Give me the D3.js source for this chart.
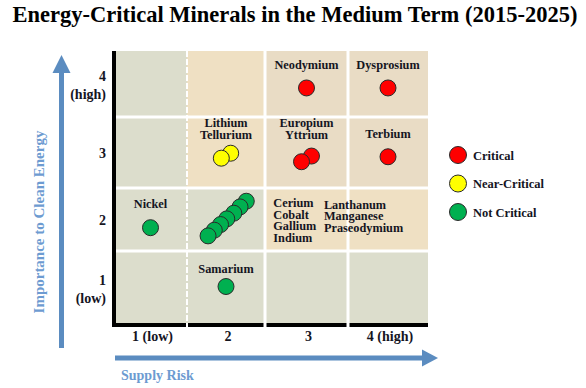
<!DOCTYPE html>
<html>
<head>
<meta charset="utf-8">
<script src="https://cdn.jsdelivr.net/npm/d3@7"></script>
<style>
  body { margin: 0; background: #fff; }
  svg text { font-family: "Liberation Serif", "Times New Roman", serif; font-weight: bold; }
</style>
</head>
<body>
<div id="chart"></div>
<script>
// chart data
var title = "Energy-Critical Minerals in the Medium Term (2015-2025)";
var xTicks = [1, 2, 3, 4];
var xTickLabels = ["1 (low)", "2", "3", "4 (high)"];
var yTicks = [1, 2, 3, 4];
var yTickLabels = [["1", "(low)"], ["2"], ["3"], ["4", "(high)"]];

// status categories
var statusNames = ["Critical", "Near-Critical", "Not Critical"];
var statusColors = ["#ff0000", "#ffff00", "#00b050"];

// minerals (drawn in this order, upper-right first)
var minerals = ["Neodymium", "Dysprosium", "Europium", "Yttrium", "Terbium",
                "Tellurium", "Lithium", "Nickel",
                "Praseodymium", "Manganese", "Lanthanum", "Indium", "Gallium", "Cobalt", "Cerium",
                "Samarium"];
var supplyRisk = [3.0, 4.0, 3.06, 2.94, 4.0,
                  2.06, 1.94, 1.0,
                  2.26, 2.18, 2.10, 2.01, 1.93, 1.85, 1.77,
                  2.0];
var importance = [3.94, 3.94, 2.95, 2.87, 2.94,
                  2.99, 2.92, 1.87,
                  2.29, 2.20, 2.10, 2.01, 1.92, 1.83, 1.74,
                  1.02];
var mineralStatus = [0, 0, 0, 0, 0,
                     1, 1, 2,
                     2, 2, 2, 2, 2, 2, 2,
                     2];

// annotation labels
var labelLines = [["Neodymium"], ["Dysprosium"], ["Europium", "Yttrium"], ["Terbium"],
                  ["Lithium", "Tellurium"], ["Nickel"], ["Samarium"],
                  ["Cerium", "Cobalt", "Gallium", "Indium"],
                  ["Lanthanum", "Manganese", "Praseodymium"]];
var labelX = [3.0, 4.0, 3.0, 4.0, 2.0, 1.0, 2.0, 2.6, 3.21];
var labelY = [4.23, 4.23, 3.36, 3.2, 3.36, 2.18, 1.2, 2.2, 2.17];
var labelAnchor = ["middle", "middle", "middle", "middle", "middle", "middle", "middle", "start", "start"];

// cell shading, row 1 (bottom) to row 4 (top)
var cellShade = [[0, 0, 0, 0],
                 [0, 0, 1, 1],
                 [0, 1, 2, 2],
                 [0, 1, 2, 2]];
var shadeColors = ["#dcddcc", "#efe0c3", "#e9dcc5"];

var width = 586, height = 388;
var arrowColor = "#5b8cc0";
var textColor = "#15151f";

var svg = d3.select("#chart").append("svg")
    .attr("width", width)
    .attr("height", height);

// piecewise scales, cells are not all equal
var x = d3.scaleLinear()
    .domain([0.5, 1.5, 2.5, 3.5, 4.5])
    .range([114, 187, 265, 348, 428]);
var y = d3.scaleLinear()
    .domain([0.5, 1.5, 2.5, 3.5, 4.5])
    .range([325, 251, 188, 117, 51]);

// title
svg.append("text")
    .attr("x", width / 2 + 2)
    .attr("y", 22)
    .attr("text-anchor", "middle")
    .attr("font-size", 22.5)
    .attr("fill", "#000")
    .text(title);

// cells
var cells = [];
cellShade.forEach(function(row, ri) {
    row.forEach(function(s, ci) {
        cells.push({ col: ci + 1, row: ri + 1, shade: s });
    });
});
svg.append("g").selectAll("rect")
    .data(cells)
    .enter().append("rect")
        .attr("x", function(d) { return x(d.col - 0.5); })
        .attr("y", function(d) { return y(d.row + 0.5); })
        .attr("width", function(d) { return x(d.col + 0.5) - x(d.col - 0.5); })
        .attr("height", function(d) { return y(d.row - 0.5) - y(d.row + 0.5); })
        .attr("fill", function(d) { return shadeColors[d.shade]; });

// black axis lines
svg.append("line")
    .attr("x1", x(0.5)).attr("x2", x(0.5))
    .attr("y1", y(4.5)).attr("y2", y(0.5) + 2)
    .attr("stroke", "#000").attr("stroke-width", 4);
svg.append("line")
    .attr("x1", x(0.5) - 2).attr("x2", x(4.5))
    .attr("y1", y(0.5)).attr("y2", y(0.5))
    .attr("stroke", "#000").attr("stroke-width", 4);

// white grid lines between cells
var bounds = [1.5, 2.5, 3.5];
svg.append("g").selectAll("line")
    .data(bounds)
    .enter().append("line")
        .attr("x1", function(d) { return x(d); })
        .attr("x2", function(d) { return x(d); })
        .attr("y1", y(4.5))
        .attr("y2", y(0.5) + 2)
        .attr("stroke", "#fff")
        .attr("stroke-width", function(d) { return d == 1.5 ? 2 : 3; })
        .attr("stroke-dasharray", function(d) { return d == 1.5 ? "6,2" : null; });
svg.append("g").selectAll("line")
    .data(bounds)
    .enter().append("line")
        .attr("x1", x(0.5) + 2)
        .attr("x2", x(4.5))
        .attr("y1", function(d) { return y(d); })
        .attr("y2", function(d) { return y(d); })
        .attr("stroke", "#fff")
        .attr("stroke-width", 3);

// x tick labels
svg.append("g").selectAll("text")
    .data(xTicks)
    .enter().append("text")
        .attr("x", function(d) { return x(d) + 2; })
        .attr("y", 341)
        .attr("text-anchor", "middle")
        .attr("font-size", 14)
        .attr("fill", textColor)
        .text(function(d, i) { return xTickLabels[i]; });

// y tick labels
var yLab = svg.append("g").selectAll("text")
    .data(yTicks)
    .enter().append("text")
        .attr("text-anchor", "end")
        .attr("font-size", 14)
        .attr("fill", textColor)
        .attr("x", 106)
        .attr("y", function(d, i) {
            return yTickLabels[i].length > 1 ? y(d) - 3 : y(d) + 5;
        });
yLab.selectAll("tspan")
    .data(function(d, i) { return yTickLabels[i]; })
    .enter().append("tspan")
        .attr("x", 106)
        .attr("dy", function(d, j) { return j == 0 ? 0 : 17.5; })
        .text(function(d) { return d; });

// arrows
svg.append("rect")
    .attr("x", 59).attr("y", 70)
    .attr("width", 5).attr("height", 278)
    .attr("fill", arrowColor);
svg.append("path")
    .attr("d", "M52.5,73 L61.5,55 L70.5,73 Z")
    .attr("fill", arrowColor);
svg.append("rect")
    .attr("x", 115).attr("y", 355.5)
    .attr("width", 310).attr("height", 5)
    .attr("fill", arrowColor);
svg.append("path")
    .attr("d", "M422,349.5 L438,358 L422,366.5 Z")
    .attr("fill", arrowColor);

// axis titles
svg.append("text")
    .attr("transform", "translate(44,222) rotate(-90)")
    .attr("text-anchor", "middle")
    .attr("font-size", 15)
    .attr("fill", "#6d9bd1")
    .text("Importance to Clean Energy");
svg.append("text")
    .attr("x", 121)
    .attr("y", 380)
    .attr("font-size", 14)
    .attr("fill", "#6d9bd1")
    .text("Supply Risk");

// mineral points
svg.append("g").selectAll("circle")
    .data(minerals)
    .enter().append("circle")
        .attr("cx", function(d, i) { return x(supplyRisk[i]); })
        .attr("cy", function(d, i) { return y(importance[i]); })
        .attr("r", 8)
        .attr("fill", function(d, i) { return statusColors[mineralStatus[i]]; })
        .attr("stroke", "#2a2a2a")
        .attr("stroke-width", 1);

// labels
var labs = svg.append("g").selectAll("text")
    .data(labelLines)
    .enter().append("text")
        .attr("x", function(d, i) { return x(labelX[i]); })
        .attr("y", function(d, i) { return y(labelY[i]); })
        .attr("text-anchor", function(d, i) { return labelAnchor[i]; })
        .attr("font-size", 12.3)
        .attr("fill", textColor);
labs.selectAll("tspan")
    .data(function(d, i) { return d.map(function(t) { return { t: t, i: i }; }); })
    .enter().append("tspan")
        .attr("x", function(d) { return x(labelX[d.i]); })
        .attr("dy", function(d, j) { return j == 0 ? 0 : 11.6; })
        .text(function(d) { return d.t; });

// legend
var legend = svg.append("g").selectAll("g")
    .data(statusNames)
    .enter().append("g")
        .attr("transform", function(d, i) { return "translate(458," + (155 + i * 28.5) + ")"; });
legend.append("circle")
    .attr("r", 8.5)
    .attr("fill", function(d, i) { return statusColors[i]; })
    .attr("stroke", "#2a2a2a")
    .attr("stroke-width", 1);
legend.append("text")
    .attr("x", 15)
    .attr("y", 4.5)
    .attr("font-size", 12.5)
    .attr("fill", textColor)
    .text(function(d) { return d; });
</script>
</body>
</html>
